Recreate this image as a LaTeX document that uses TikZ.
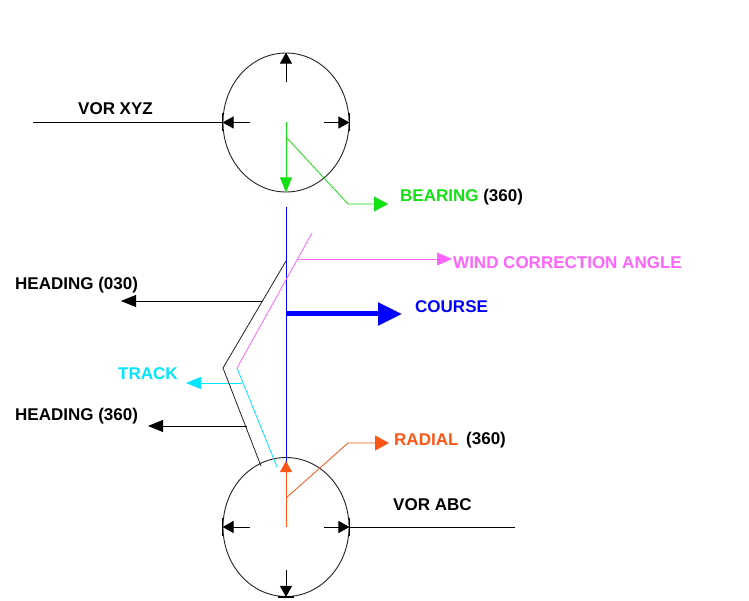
\documentclass[tikz,border=0pt]{standalone}
\usepackage{fontspec}
\setmainfont{Liberation Sans}
\usetikzlibrary{arrows.meta,shapes.geometric}
\definecolor{cgreen}{RGB}{20,225,20}
\definecolor{cmag}{RGB}{255,100,255}
\definecolor{ccyan}{RGB}{0,230,255}
\definecolor{cblue}{RGB}{0,0,255}
\definecolor{corange}{RGB}{255,85,20}
\definecolor{cline}{RGB}{35,35,35}
\begin{document}
\begin{tikzpicture}[x=1pt,y=-1pt,
  lbl/.style={font=\fontsize{17}{20}\selectfont\bfseries, inner sep=0, anchor=west},
  vor/.style={draw=cline, ellipse, minimum width=126, minimum height=139, inner sep=0, line width=0.9},
  sm/.style={-{Triangle[length=11,width=12]}, line width=0.8},
  lg/.style={-{Triangle[length=15,width=12]}, line width=0.8},
  rt/.style={-{Triangle[length=14,width=15]}, line width=0.8},
  thin/.style={line width=0.7},
  tick/.style={line width=1.3}]
\useasboundingbox (0,0) rectangle (749,601);
\fill[white] (0,0) rectangle (749,601);
% stations
\node[vor] (X) at (286,122.5) {};
\node[vor] (A) at (286,527) {};
% top station arrows and ticks
\coordinate (Xn) at (286,82);
\coordinate (Xw) at (250,122.5);
\coordinate (Xe) at (324,122.5);
\draw[sm] (Xn) -- (X.north);
\draw[sm] (Xw) -- (X.west);
\draw[sm] (Xe) -- (X.east);
\draw[tick] ([yshift=9]X.west) -- ([yshift=-9]X.west);
\draw[tick] ([yshift=9]X.east) -- ([yshift=-9]X.east);
\coordinate (XL) at (33,122.5);
\draw[thin] (XL) -- (X.west);
\node[lbl] (lXYZ) at (78,109) {VOR XYZ};
% bearing
\draw[cgreen, lg] (X.center) -- (X.south);
\coordinate (b1) at (286,137);
\coordinate (b2) at (348,204);
\coordinate (b3) at (388,204);
\draw[cgreen, rt] (b1) -- (b2) -- (b3);
\node[lbl] (lB) at (400,197) {\textcolor{cgreen}{BEARING} (360)};
% course
\coordinate (c1) at (286,207);
\coordinate (c2) at (286,466);
\draw[cblue, line width=0.8] (c1) -- (c2);
\coordinate (c3) at (286,314);
\coordinate (c4) at (402,314);
\draw[cblue, line width=5, -{Triangle[length=24,width=22]}] (c3) -- (c4);
\node[lbl, text=cblue] (lC) at (415,307) {COURSE};
% wind correction angle
\coordinate (m1) at (312,233);
\coordinate (m2) at (237,368);
\draw[cmag, line width=0.8] (m1) -- (m2);
\coordinate (m3) at (297.5,259);
\coordinate (m4) at (452,259);
\draw[cmag, -{Triangle[length=15,width=13]}, line width=0.9] (m3) -- (m4);
\node[lbl, text=cmag] (lW) at (453,263) {WIND CORRECTION ANGLE};
% track
\coordinate (t2) at (277,467);
\draw[ccyan, line width=0.8] (m2) -- (t2);
\coordinate (t3) at (242,383);
\coordinate (t4) at (186,383);
\draw[ccyan, lg] (t3) -- (t4);
\node[lbl, text=ccyan] (lT) at (118,374) {TRACK};
% heading path
\coordinate (h1) at (286,261);
\coordinate (h2) at (223,368);
\coordinate (h3) at (261,466);
\draw[cline, line width=0.8] (h1) -- (h2) -- (h3);
\coordinate (h4) at (262,301);
\coordinate (h5) at (121,301);
\draw[lg] (h4) -- (h5);
\node[lbl] (lH1) at (15,285) {HEADING (030)};
\coordinate (h6) at (247,426);
\coordinate (h7) at (148,426);
\draw[lg] (h6) -- (h7);
\node[lbl] (lH2) at (15,416) {HEADING (360)};
% radial
\coordinate (r0) at (286,461);
\draw[corange, sm] (A.center) -- (r0);
\coordinate (r1) at (286,498);
\coordinate (r2) at (348,443);
\coordinate (r3) at (389,443);
\draw[corange, rt] (r1) -- (r2) -- (r3);
\node[lbl, text=corange] (lR) at (394,440) {RADIAL};
\node[lbl] (lR2) at (466,440) {(360)};
% lower station arrows and ticks
\coordinate (Aw) at (250,527);
\coordinate (Ae) at (324,527);
\coordinate (As) at (286,570);
\draw[sm] (Aw) -- (A.west);
\draw[sm] (Ae) -- (A.east);
\draw[sm] (As) -- (A.south);
\draw[tick] ([yshift=9]A.west) -- ([yshift=-9]A.west);
\draw[tick] ([yshift=9]A.east) -- ([yshift=-9]A.east);
\draw[tick] ([xshift=-8]A.south) -- ([xshift=8]A.south);
\coordinate (AR) at (515,527);
\draw[thin] (A.east) -- (AR);
\node[lbl] (lABC) at (393,505) {VOR ABC};
\end{tikzpicture}
\end{document}
